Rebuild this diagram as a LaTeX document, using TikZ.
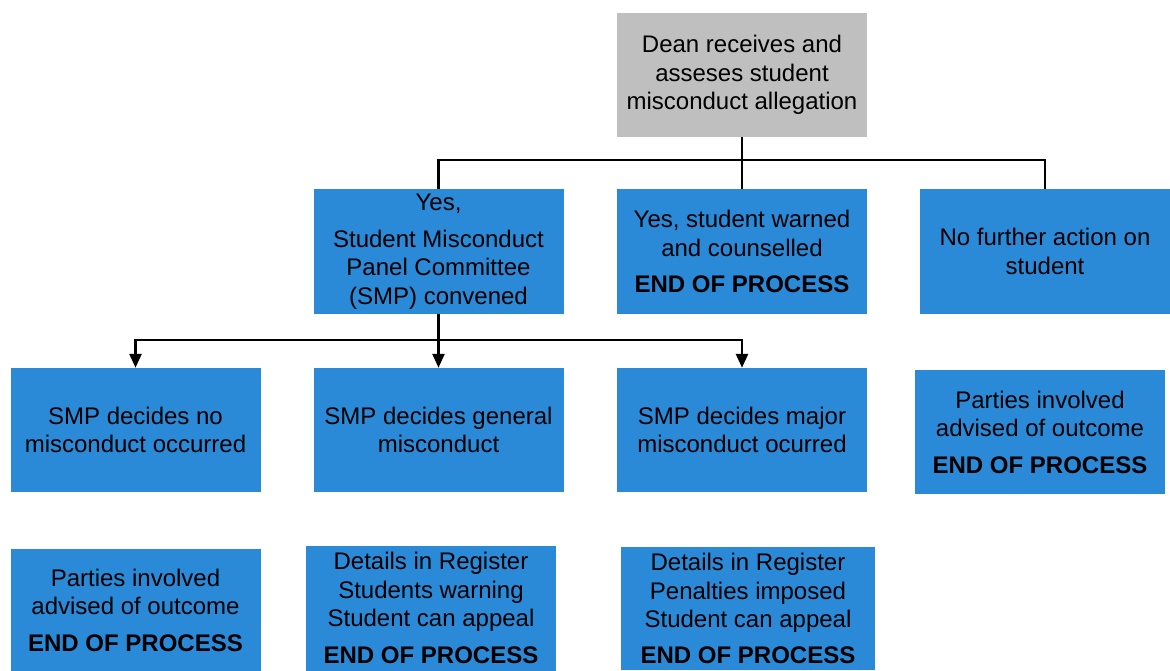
\documentclass[tikz,border=0pt]{standalone}
\usepackage{fontspec}
\setmainfont{Liberation Sans}
\usetikzlibrary{arrows.meta}
\definecolor{boxblue}{RGB}{42,138,216}
\definecolor{boxgray}{RGB}{191,191,191}

\begin{document}
\begin{tikzpicture}[x=1pt,y=-1pt,
    box/.style={fill=boxblue, inner sep=0pt, minimum width=250pt, minimum height=125pt,
        align=center, font=\fontsize{24}{28.5}\selectfont},
    link/.style={line width=2.5pt},
    arrowlink/.style={line width=2.5pt, -{Triangle[width=12pt,length=14pt]}}]
        \useasboundingbox (0,0) rectangle (1170,670);

        \node[box, fill=boxgray, minimum height=124pt] (dean) at (742,75)
            {Dean receives and\\asseses student\\misconduct allegation};

        \node[box] (smp) at (438.5,251.5)
            {Yes,\\[8pt]Student Misconduct\\Panel Committee\\(SMP) convened};
        \node[box] (warned) at (742,251.5)
            {Yes, student warned\\and counselled\\[8pt]\textbf{END OF PROCESS}};
        \node[box] (noaction) at (1045,251.5)
            {No further action on\\student};

        \node[box, minimum height=124pt] (nomisc) at (135.5,430)
            {SMP decides no\\misconduct occurred};
        \node[box, minimum height=124pt] (general) at (438.5,430)
            {SMP decides general\\misconduct};
        \node[box, minimum height=124pt] (major) at (742,430)
            {SMP decides major\\misconduct ocurred};
        \node[box, minimum height=124pt] (advised) at (1040,432)
            {Parties involved\\advised of outcome\\[8pt]\textbf{END OF PROCESS}};

        \node[box, minimum height=123pt] (advisedno) at (135.5,610)
            {Parties involved\\advised of outcome\\[8pt]\textbf{END OF PROCESS}};
        \node[box] (warning) at (431,608)
            {Details in Register\\Students warning\\Student can appeal\\[8pt]\textbf{END OF PROCESS}};
        \node[box, minimum width=254pt, minimum height=123pt] (penalty) at (748,608.5)
            {Details in Register\\Penalties imposed\\Student can appeal\\[7pt]\textbf{END OF PROCESS}};

        \coordinate (split) at (742,160);
        \draw[link] (dean.south) -- (split);
        \draw[link] (split) -| (smp.north);
        \draw[link] (split) -- (warned.north);
        \draw[link] (split) -| (noaction.north);

        \coordinate (smpsplit) at (smp.south |- 0,340);
        \draw[link] (smp.south) -- (smpsplit);
        \foreach \n in {nomisc,general,major}
            \draw[arrowlink] (smpsplit) -| (\n.north);
    \end{tikzpicture}
\end{document}
